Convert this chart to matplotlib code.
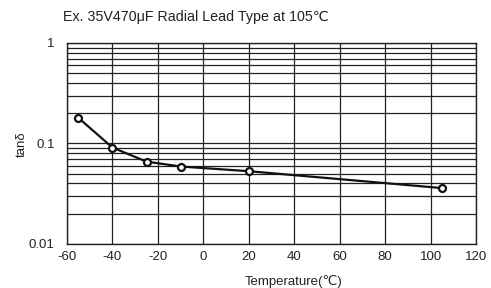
import matplotlib
matplotlib.use('Agg')
import matplotlib.pyplot as plt
from matplotlib.ticker import LogLocator, FixedLocator, NullFormatter

plt.rcParams['font.family'] = ['Liberation Sans', 'DejaVu Sans']
plt.rcParams['axes.unicode_minus'] = False

# Temperatura i tan delta
temperature = [-55, -40, -25, -10, 20, 105]
tan_delta = [0.18, 0.091, 0.066, 0.059, 0.053, 0.036]

x_ticks = [-60, -40, -20, 0, 20, 40, 60, 80, 100, 120]
y_ticks = [0.01, 0.1, 1]
y_tick_labels = ['0.01', '0.1', '1']

fig = plt.figure(figsize=(4.91, 2.88), dpi=100)
ax = fig.add_axes([0.1365, 0.1528, 0.833, 0.698])

ax.plot(temperature, tan_delta, color='#111111', linewidth=1.6,
        marker='o', markersize=5, markerfacecolor='white',
        markeredgecolor='#111111', markeredgewidth=1.6, zorder=3)

ax.set_yscale('log')
ax.set_xlim(-60, 120)
ax.set_ylim(0.01, 1)
ax.xaxis.set_major_locator(FixedLocator(x_ticks))
ax.yaxis.set_major_locator(FixedLocator(y_ticks))
ax.set_yticklabels(y_tick_labels)
ax.yaxis.set_minor_locator(LogLocator(base=10, subs=range(2, 10)))
ax.yaxis.set_minor_formatter(NullFormatter())

ax.grid(True, which='major', color='#222222', linewidth=0.9)
ax.grid(True, which='minor', axis='y', color='#222222', linewidth=0.9)
ax.tick_params(which='both', length=0, labelsize=9.5, colors='#222222')
ax.tick_params(axis='x', pad=5)
ax.tick_params(axis='y', pad=9)
for s in ax.spines.values():
    s.set_color('#222222')
    s.set_linewidth(1.0)

fig.text(0.128, 0.94, 'Ex. 35V470μF Radial Lead Type at 105℃',
         fontsize=10.3, color='#222222', va='center', ha='left')
fig.text(0.597, 0.022, 'Temperature(℃)', fontsize=9.5, color='#222222',
         ha='center', va='center')
fig.text(0.044, 0.5, 'tanδ', fontsize=9.5, color='#222222', rotation=90,
         ha='center', va='center')

fig.savefig('out.png', dpi=100)
